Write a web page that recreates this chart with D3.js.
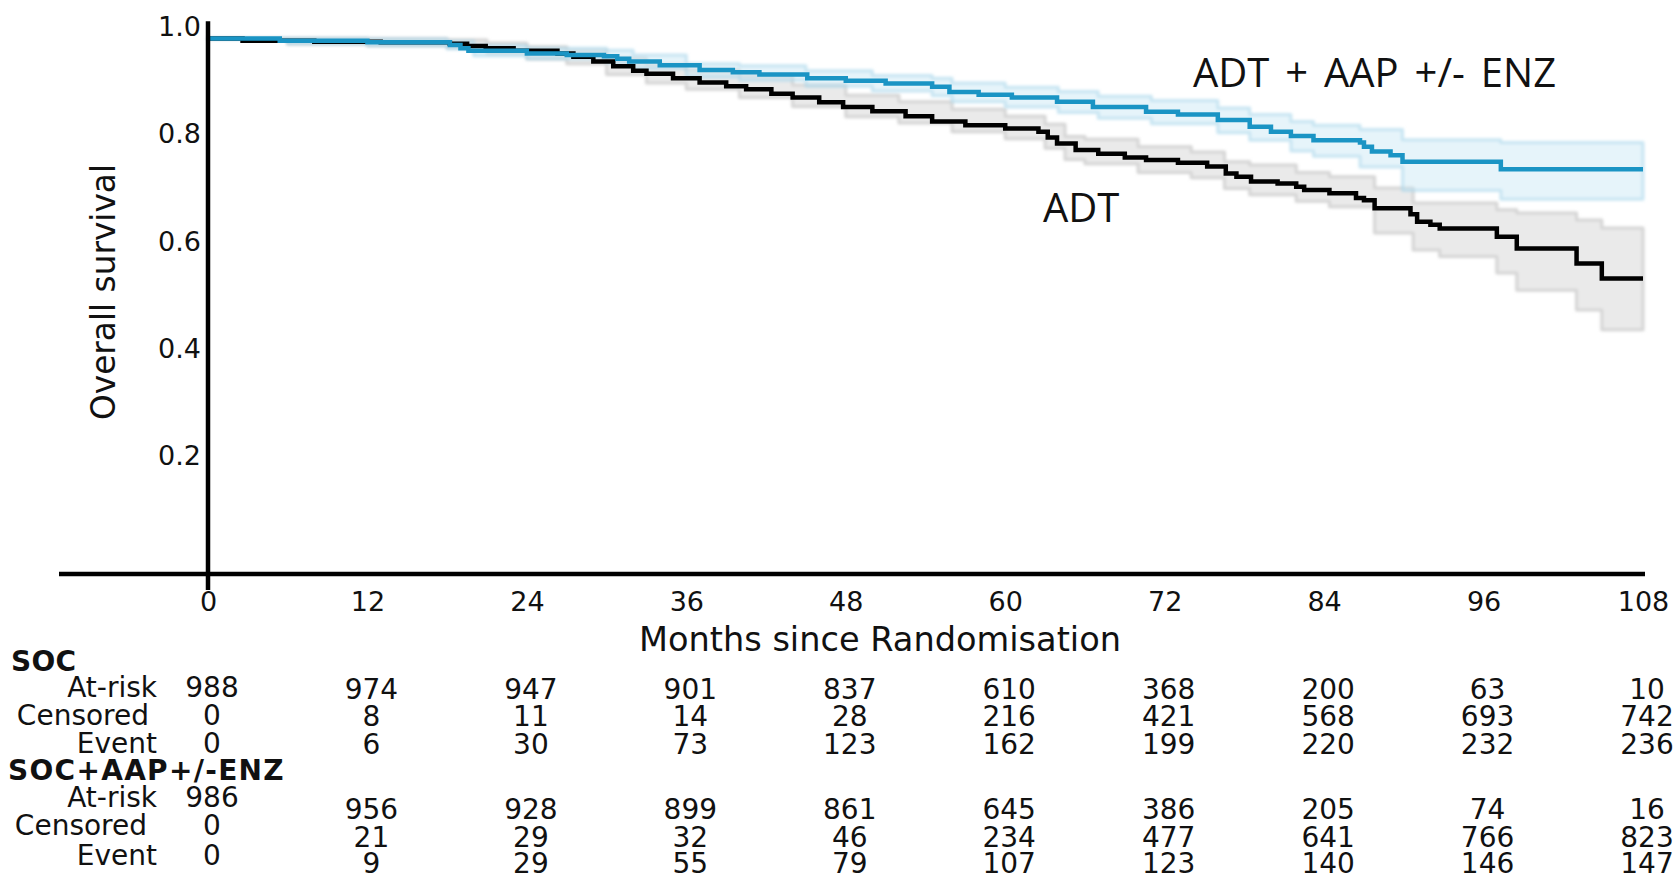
<!DOCTYPE html>
<html>
<head>
<meta charset="utf-8">
<script src="https://cdn.jsdelivr.net/npm/d3@7"></script>
<style>
  html, body { margin: 0; padding: 0; background: #fff; }
  svg { display: block; }
  text { font-family: "DejaVu Sans", Verdana, sans-serif; fill: #111; }
</style>
</head>
<body>
<svg id="chart" width="1676" height="876"></svg>
<script>
// Kaplan-Meier overall survival by arm: [month, survival from that month on]
const socCurve = [
  [0, 1.0], [2.6, 0.996], [8, 0.994], [13, 0.993], [18.2, 0.990], [19.5, 0.986],
  [20.9, 0.982], [23, 0.977], [26.3, 0.972], [27.5, 0.966], [29, 0.957], [30.5, 0.948],
  [32, 0.940], [33, 0.934], [35, 0.926], [37, 0.918], [39, 0.911], [40.5, 0.905],
  [42.4, 0.897], [44, 0.890], [46, 0.881], [47.8, 0.872], [50, 0.864], [52.5, 0.855],
  [54.5, 0.845], [57, 0.838], [60, 0.832], [62.5, 0.826], [63.2, 0.815], [63.9, 0.804],
  [65.3, 0.792], [67, 0.785], [69, 0.778], [70.6, 0.773], [73, 0.768], [75.2, 0.761],
  [76.6, 0.748], [77.4, 0.742], [78.5, 0.733], [80.5, 0.729], [81.9, 0.723], [82.5, 0.717],
  [84.4, 0.711], [86.4, 0.702], [87.0, 0.698], [87.8, 0.683], [90.5, 0.672], [91.0, 0.658],
  [92.0, 0.652], [92.7, 0.645], [97.0, 0.630], [98.5, 0.608], [103.0, 0.580], [104.9, 0.552],
  [108, 0.552]
];
const aapCurve = [
  [0, 1.0], [5.4, 0.996], [12, 0.993], [18.2, 0.988], [19.0, 0.982], [19.6, 0.977],
  [24, 0.972], [27, 0.969], [29.8, 0.967], [30.8, 0.962], [31.7, 0.957], [34, 0.950],
  [37, 0.941], [39.5, 0.937], [41.5, 0.933], [45.1, 0.926], [48, 0.921], [51, 0.916],
  [54.5, 0.910], [55.8, 0.900], [58, 0.895], [60.5, 0.890], [63.9, 0.882], [66.6, 0.872],
  [70.6, 0.863], [73, 0.858], [76, 0.848], [78.4, 0.835], [80, 0.826], [81.5, 0.818],
  [83.2, 0.810], [86.7, 0.806], [87.0, 0.798], [87.6, 0.789], [89.0, 0.782], [89.9, 0.770],
  [97.3, 0.756], [108, 0.756]
];

// 95% confidence bands: [month, lower, upper]
const socBand = [
  [0, 1.0, 1.0], [6, 0.990, 1.0], [12, 0.987, 0.999], [18, 0.983, 0.997], [21, 0.973, 0.991],
  [24, 0.962, 0.984], [27, 0.953, 0.977], [30, 0.933, 0.963], [33, 0.917, 0.951],
  [36, 0.905, 0.941], [40, 0.890, 0.930], [44, 0.873, 0.913], [48, 0.854, 0.894],
  [52, 0.842, 0.882], [56, 0.826, 0.868], [60, 0.813, 0.855], [63, 0.795, 0.840],
  [64.5, 0.774, 0.817], [66, 0.766, 0.812], [70, 0.750, 0.798], [74, 0.740, 0.788],
  [76.5, 0.720, 0.770], [78.4, 0.708, 0.764], [81.9, 0.696, 0.750], [84.4, 0.686, 0.742],
  [87.8, 0.637, 0.721], [90.7, 0.605, 0.693], [92.7, 0.593, 0.693], [97.0, 0.562, 0.680],
  [98.5, 0.530, 0.674], [103.0, 0.493, 0.661], [104.9, 0.456, 0.646], [108, 0.456, 0.646]
];
const aapBand = [
  [0, 1.0, 1.0], [6, 0.990, 1.0], [12, 0.987, 0.999], [18, 0.981, 0.995], [20, 0.968, 0.987],
  [24, 0.962, 0.982], [30, 0.955, 0.978], [32, 0.944, 0.969], [36, 0.928, 0.953],
  [40, 0.922, 0.949], [45, 0.911, 0.940], [50, 0.902, 0.931], [54.5, 0.893, 0.926],
  [56, 0.882, 0.917], [60, 0.872, 0.909], [64, 0.862, 0.901], [67, 0.851, 0.892],
  [71, 0.841, 0.884], [76, 0.824, 0.870], [78.4, 0.810, 0.858], [81.5, 0.790, 0.845],
  [83.2, 0.780, 0.838], [86.7, 0.760, 0.830], [89.9, 0.716, 0.811], [97.3, 0.700, 0.806],
  [108, 0.700, 0.806]
];

// Axis ticks
const monthTicks = [0, 12, 24, 36, 48, 60, 72, 84, 96, 108];
const survivalTicks = [0.2, 0.4, 0.6, 0.8, 1.0];

// Numbers at risk table
const socAtRisk   = [988, 974, 947, 901, 837, 610, 368, 200, 63, 10];
const socCensored = [0, 8, 11, 14, 28, 216, 421, 568, 693, 742];
const socEvent    = [0, 6, 30, 73, 123, 162, 199, 220, 232, 236];
const aapAtRisk   = [986, 956, 928, 899, 861, 645, 386, 205, 74, 16];
const aapCensored = [0, 21, 29, 32, 46, 234, 477, 641, 766, 823];
const aapEvent    = [0, 9, 29, 55, 79, 107, 123, 140, 146, 147];

const svg = d3.select("#chart");
svg.append("rect").attr("width", 1676).attr("height", 876).attr("fill", "#fff");

const defs = svg.append("defs");
defs.append("filter").attr("id", "soft").attr("x", "-5%").attr("y", "-20%")
  .attr("width", "110%").attr("height", "140%")
  .append("feGaussianBlur").attr("stdDeviation", 1.6);

const x = d3.scaleLinear().domain([0, 108]).range([208, 1643]);
const y = d3.scaleLinear().domain([0, 1]).range([574, 38.5]);

const band = d3.area()
  .curve(d3.curveStepAfter)
  .x(d => x(d[0])).y0(d => y(d[1])).y1(d => y(d[2]));
const line = d3.line()
  .curve(d3.curveStepAfter)
  .x(d => x(d[0])).y(d => y(d[1]));

// confidence bands
svg.append("path").datum(socBand).attr("d", band)
  .attr("fill", "#eaeaea").attr("stroke", "#d4d4d4").attr("stroke-width", 3)
  .attr("stroke-linejoin", "round").attr("filter", "url(#soft)");
svg.append("path").datum(aapBand).attr("d", band)
  .attr("fill", "rgba(200,230,244,0.45)").attr("stroke", "rgba(170,215,235,0.6)").attr("stroke-width", 3)
  .attr("stroke-linejoin", "round").attr("filter", "url(#soft)");

// survival curves
svg.append("path").datum(socCurve).attr("d", line)
  .attr("fill", "none").attr("stroke", "#000").attr("stroke-width", 4.5);
svg.append("path").datum(aapCurve).attr("d", line)
  .attr("fill", "none").attr("stroke", "#1a94c4").attr("stroke-width", 4.5);

// axes
const xAxis = d3.axisBottom(x).tickValues(monthTicks).tickSize(0).tickPadding(18);
const gx = svg.append("g").attr("transform", `translate(0,${y(0)})`).call(xAxis);
gx.select(".domain").remove();
gx.selectAll("text").attr("font-size", 27).attr("font-family", "DejaVu Sans").attr("fill", "#111");

const yAxis = d3.axisLeft(y).tickValues(survivalTicks).tickSize(0).tickPadding(7)
  .tickFormat(d3.format(".1f"));
const gy = svg.append("g").attr("transform", `translate(${x(0)},0)`).call(yAxis);
gy.select(".domain").remove();
gy.selectAll("text").attr("font-size", 27).attr("font-family", "DejaVu Sans")
  .attr("fill", "#111").attr("dy", "-0.1em");

svg.append("line")
  .attr("x1", 59).attr("x2", x(108) + 2).attr("y1", y(0)).attr("y2", y(0))
  .attr("stroke", "#000").attr("stroke-width", 4.5);
svg.append("line")
  .attr("x1", x(0)).attr("x2", x(0)).attr("y1", y(1.032)).attr("y2", y(0) + 16)
  .attr("stroke", "#000").attr("stroke-width", 4.5);

// axis titles
svg.append("text")
  .attr("x", 880).attr("y", 651).attr("text-anchor", "middle")
  .attr("font-size", 33.6).text("Months since Randomisation");
svg.append("text")
  .attr("transform", "translate(115,292) rotate(-90)").attr("text-anchor", "middle")
  .attr("font-size", 32.8).text("Overall survival");

// curve labels
svg.append("text").attr("x", 1193).attr("y", 87)
  .style("font-family", "'Open Sans', sans-serif").attr("font-size", 40)
  .attr("word-spacing", 5.5)
  .text("ADT + AAP +/- ENZ");
svg.append("text").attr("x", 1043).attr("y", 222)
  .style("font-family", "'Open Sans', sans-serif").attr("font-size", 40)
  .text("ADT");

// numbers at risk
const tbl = svg.append("g").attr("font-size", 28);
const labelRight = 157;
const groups = [
  { name: "SOC", headY: 671, rows: [
      { label: "At-risk", vals: socAtRisk, y0: 697, y: 699, shift: 0 },
      { label: "Censored", vals: socCensored, y0: 725, y: 726, shift: -8 },
      { label: "Event", vals: socEvent, y0: 753, y: 754, shift: 0 } ] },
  { name: "SOC+AAP+/-ENZ", headY: 780, rows: [
      { label: "At-risk", vals: aapAtRisk, y0: 807, y: 819, shift: 0 },
      { label: "Censored", vals: aapCensored, y0: 835, y: 847, shift: -10 },
      { label: "Event", vals: aapEvent, y0: 865, y: 873, shift: 0 } ] }
];
groups.forEach((g, gi) => {
  tbl.append("text").attr("x", gi === 0 ? 11 : 8).attr("y", g.headY)
    .attr("font-weight", "bold").attr("font-size", 28)
    .attr("letter-spacing", gi === 0 ? 0.3 : 1.3).text(g.name);
  g.rows.forEach(r => {
    tbl.append("text").attr("x", labelRight + r.shift).attr("y", r.y0)
      .attr("text-anchor", "end").text(r.label);
    tbl.selectAll(null).data(r.vals).enter().append("text")
      .attr("x", (d, i) => x(monthTicks[i]) + 4)
      .attr("y", (d, i) => i === 0 ? r.y0 : r.y)
      .attr("text-anchor", "middle")
      .text(d => d);
  });
});
</script>
</body>
</html>
